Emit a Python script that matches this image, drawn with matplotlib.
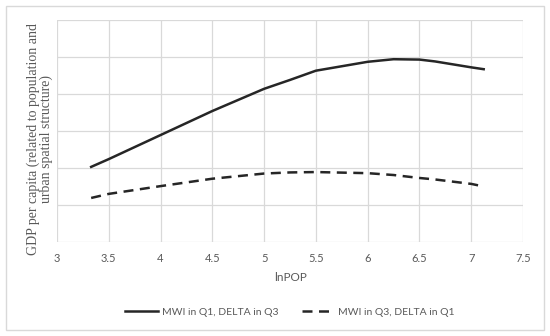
import matplotlib.pyplot as plt
from matplotlib.patches import Rectangle

# values (y axis has no labels, grid step = 1)
ln_pop = [3.33, 3.5, 4.0, 4.5, 5.0, 5.25, 5.5, 6.0, 6.25, 6.5, 6.65, 7.0, 7.12]
mwi_q1_delta_q3 = [2.03, 2.24, 2.89, 3.54, 4.14, 4.38, 4.63, 4.87, 4.94, 4.93, 4.88, 4.72, 4.67]
mwi_q3_delta_q1 = [1.19, 1.30, 1.51, 1.71, 1.85, 1.88, 1.89, 1.86, 1.81, 1.73, 1.69, 1.57, 1.50]

x_ticks = [3, 3.5, 4, 4.5, 5, 5.5, 6, 6.5, 7, 7.5]
x_tick_labels = ["3", "3.5", "4", "4.5", "5", "5.5", "6", "6.5", "7", "7.5"]
y_ticks = [0, 1, 2, 3, 4, 5, 6]

grey_text = "#595959"
grid_col = "#d9d9d9"

fig = plt.figure(figsize=(5.5, 3.36), dpi=100)
fig.patches.append(Rectangle((0.011, 0.018), 0.978, 0.965, transform=fig.transFigure,
                             fill=False, edgecolor=grid_col, linewidth=1))

ax = fig.add_axes([0.1036, 0.2798, 0.8474, 0.6607])
ax.plot(ln_pop, mwi_q1_delta_q3, color="#262626", linewidth=1.8,
        label="MWI in Q1, DELTA in Q3")
ax.plot(ln_pop, mwi_q3_delta_q1, color="#262626", linewidth=1.8,
        linestyle=(0, (4, 2.6)), label="MWI in Q3, DELTA in Q1")

ax.set_xlim(3, 7.5)
ax.set_ylim(0, 6)
ax.set_xticks(x_ticks)
ax.set_xticklabels(x_tick_labels, family="Lato", fontsize=8, color=grey_text)
ax.set_yticks(y_ticks)
ax.set_yticklabels([])
ax.tick_params(length=0, pad=8)
ax.grid(True, color=grid_col, linewidth=0.9)
ax.set_axisbelow(True)
for s in ax.spines.values():
    s.set_visible(False)

ax.set_xlabel("lnPOP", family="Lato", fontsize=8.5, color=grey_text, labelpad=6)
ax.set_ylabel("GDP per capita (related to population and\nurban spatial structure)",
              family="Liberation Serif", fontsize=10, color=grey_text,
              linespacing=1.0)
ax.yaxis.set_label_coords(-0.008, 0.464)

ax.legend(loc="center", bbox_to_anchor=(0.5, -0.315), ncol=2, frameon=False,
          prop={"family": "Lato", "size": 7.5}, labelcolor=grey_text,
          handlelength=3.2, handletextpad=0.3, columnspacing=2.3)

fig.savefig("out.png", dpi=100)
